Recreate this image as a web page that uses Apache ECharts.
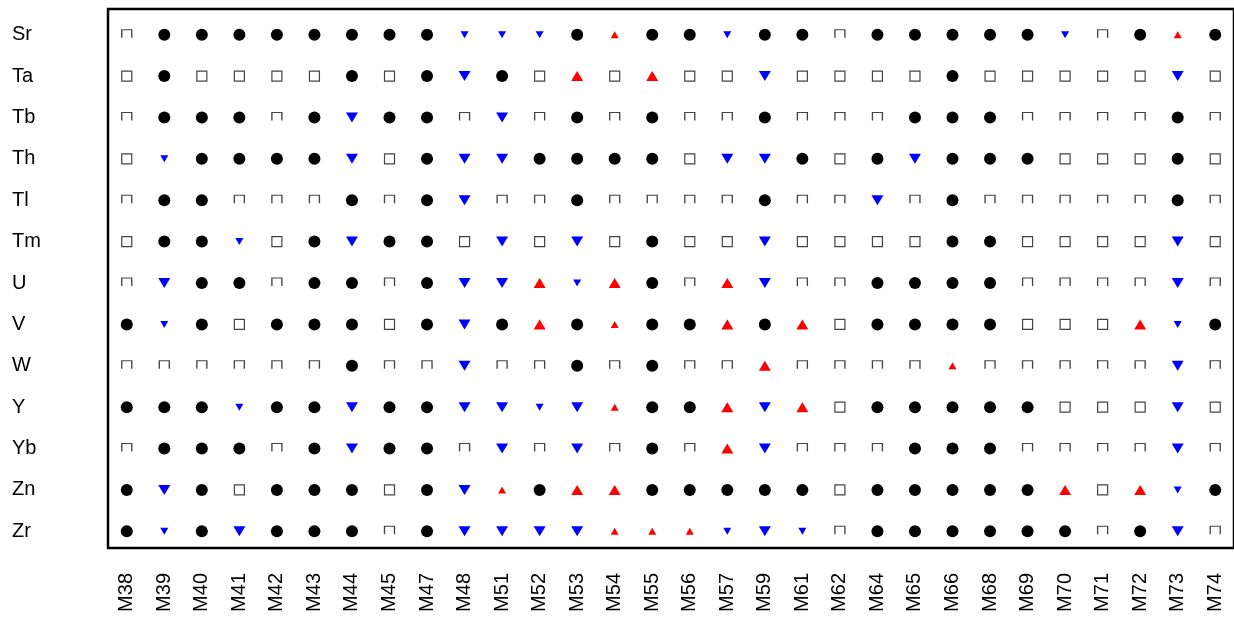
<!DOCTYPE html>
<html>
<head>
<meta charset="utf-8">
<script src="https://cdn.jsdelivr.net/npm/echarts@6/dist/echarts.min.js"></script>
<style>html,body{margin:0;padding:0;background:#fff}#c{width:1234px;height:619px}</style>
</head>
<body>
<div id="c"></div>
<script>
// Categories
const elements = ['Sr','Ta','Tb','Th','Tl','Tm','U','V','W','Y','Yb','Zn','Zr'];
const samples = ['M38','M39','M40','M41','M42','M43','M44','M45','M47','M48','M51','M52','M53','M54','M55','M56','M57','M59','M61','M62','M64','M65','M66','M68','M69','M70','M71','M72','M73','M74'];
// Codes: C = dot, S = open square, d/D = small/large blue down-triangle, u/U = small/large red up-triangle
const Sr = 'S C C C C C C C C d d d C u C C d C C S C C C C C d S C u C'.split(' ');
const Ta = 'S C S S S S C S C D C S U S U S S D S S S S C S S S S S D S'.split(' ');
const Tb = 'S C C C S C D C C S D S C S C S S C S S S C C C S S S S C S'.split(' ');
const Th = 'S d C C C C D S C D D C C C C S D D C S C D C C C S S S C S'.split(' ');
const Tl = 'S C C S S S C S C D S S C S S S S C S S D S C S S S S S C S'.split(' ');
const Tm = 'S C C d S C D C C S D S D S C S S D S S S S C C S S S S D S'.split(' ');
const U  = 'S D C C S C C S C D D U d U C S U D S S C C C C S S S S D S'.split(' ');
const V  = 'C d C S C C C S C D C U C u C C U C U S C C C C S S S U d C'.split(' ');
const W  = 'S S S S S S C S S D S S C S C S S U S S S S u S S S S S D S'.split(' ');
const Y  = 'C C C d C C D C C D D d D u C C U D U S C C C C C S S S D S'.split(' ');
const Yb = 'S C C C S C D C C S D S D S C S U D S S S C C C S S S S D S'.split(' ');
const Zn = 'C D C S C C C S C D u C U U C C C C C S C C C C C U S U d C'.split(' ');
const Zr = 'C d C D C C C S C D D D D u u u d D d S C C C C C C S C D S'.split(' ');
const codeRows = [Sr,Ta,Tb,Th,Tl,Tm,U,V,W,Y,Yb,Zn,Zr];

const styles = {
  C: {symbol:'circle', symbolSize:12, rotate:0, itemStyle:{color:'#000', opacity:1}},
  S: {symbol:'rect', symbolSize:10, rotate:0, itemStyle:{color:'rgba(0,0,0,0)', borderColor:'#444', borderWidth:1.2, opacity:1}},
  d: {symbol:'triangle', symbolSize:[8,7], rotate:180, itemStyle:{color:'#0000ff', opacity:1}},
  D: {symbol:'triangle', symbolSize:[12,10], rotate:180, itemStyle:{color:'#0000ff', opacity:1}},
  u: {symbol:'triangle', symbolSize:[8,7], rotate:0, itemStyle:{color:'#ff0000', opacity:1}},
  U: {symbol:'triangle', symbolSize:[12,10], rotate:0, itemStyle:{color:'#ff0000', opacity:1}}
};
const buckets = {};
Object.keys(styles).forEach(k => buckets[k] = []);
codeRows.forEach((row, ri) => {
  row.forEach((code, ci) => {
    const item = {value:[samples[ci], elements[ri]]};
    if (code === 'S' && ri % 2 === 0) {
      // rows rendered with open-bottom squares in the reference
      item.symbol = 'path://M0,10L0,0L10,0L10,10';
      item.symbolSize = [10,8];
      item.symbolOffset = [0,-1];
    }
    buckets[code].push(item);
  });
});
const series = Object.keys(styles).map(k => ({
  type:'scatter', xAxisIndex:0, yAxisIndex:0,
  symbol: styles[k].symbol, symbolSize: styles[k].symbolSize, symbolRotate: styles[k].rotate,
  itemStyle: styles[k].itemStyle, data: buckets[k], silent:true, animation:false
}));

const chart = echarts.init(document.getElementById('c'), null, {renderer:'canvas'});
chart.setOption({
  animation:false,
  grid:[
    {left:108, right:-10, top:14, bottom:67, show:false},
    {left:108, right:-10, top:9, bottom:71, show:true, borderColor:'#000', borderWidth:2.5, backgroundColor:'transparent'}
  ],
  xAxis:[
    {type:'category', gridIndex:0, data:samples, boundaryGap:true,
     axisLine:{show:false}, axisTick:{show:false}, splitLine:{show:false},
     axisLabel:{rotate:90, margin:21, fontSize:20, color:'#000', fontFamily:'Liberation Sans, Arial', interval:0}},
    {type:'value', gridIndex:1, show:false}
  ],
  yAxis:[
    {type:'category', gridIndex:0, data:elements, inverse:true, boundaryGap:true,
     axisLine:{show:false}, axisTick:{show:false}, splitLine:{show:false},
     axisLabel:{align:'left', margin:96, fontSize:20, color:'#000', fontFamily:'Liberation Sans, Arial', interval:0}},
    {type:'value', gridIndex:1, show:false}
  ],
  series: series
});
</script>
</body>
</html>
